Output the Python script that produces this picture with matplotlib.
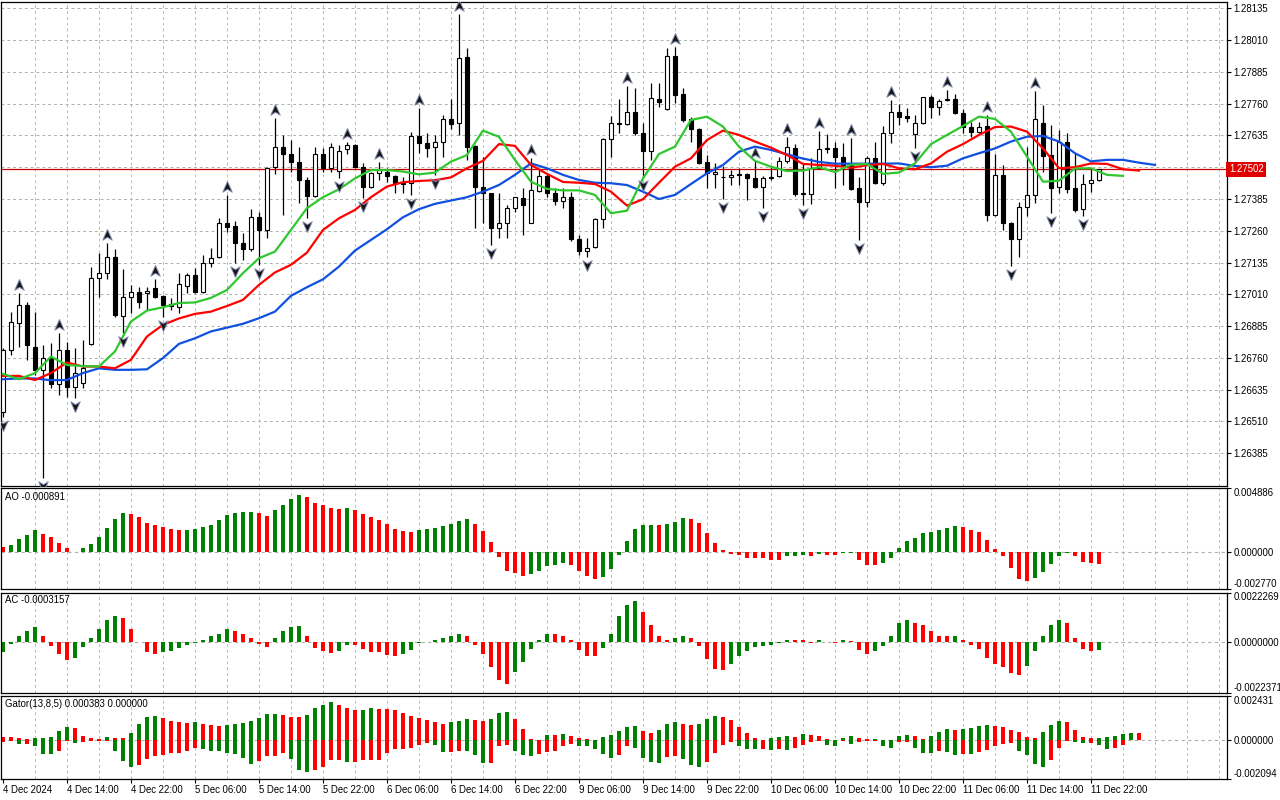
import matplotlib
matplotlib.use("Agg")
import matplotlib.pyplot as plt
from matplotlib.path import Path
from matplotlib.transforms import offset_copy, blended_transform_factory

plt.rcParams["font.family"] = ["Liberation Sans", "DejaVu Sans"]

# H1 candles, 4 Dec 06:00 .. 11 Dec 23:00
opens = [1.26549, 1.26791, 1.26899, 1.26968, 1.26804, 1.26713, 1.26759, 1.26657, 1.26791, 1.26647,
         1.26660, 1.26815, 1.27073, 1.27093, 1.27158, 1.26925, 1.26999, 1.27021, 1.27014, 1.27034,
         1.27004, 1.26972, 1.26962, 1.27044, 1.27085, 1.27021, 1.27135, 1.27156, 1.27289, 1.27279,
         1.27211, 1.27187, 1.27313, 1.27263, 1.27510, 1.27591, 1.27562, 1.27529, 1.27460, 1.27398,
         1.27562, 1.27506, 1.27497, 1.27580, 1.27596, 1.27510, 1.27434, 1.27486, 1.27493, 1.27476,
         1.27449, 1.27447, 1.27633, 1.27604, 1.27588, 1.27611, 1.27698, 1.27683, 1.27942, 1.27595,
         1.27431, 1.27407, 1.27269, 1.27292, 1.27348, 1.27388, 1.27292, 1.27418, 1.27476, 1.27410,
         1.27379, 1.27394, 1.27227, 1.27182, 1.27195, 1.27305, 1.27620, 1.27680, 1.27680, 1.27726,
         1.27643, 1.27575, 1.27777, 1.27738, 1.27948, 1.27798, 1.27698, 1.27660, 1.27529, 1.27484,
         1.27470, 1.27470, 1.27482, 1.27482, 1.27466, 1.27431, 1.27466, 1.27476, 1.27535, 1.27584,
         1.27405, 1.27405, 1.27506, 1.27583, 1.27584, 1.27549, 1.27519, 1.27427, 1.27375, 1.27545,
         1.27449, 1.27643, 1.27726, 1.27712, 1.27640, 1.27683, 1.27788, 1.27746, 1.27776, 1.27777,
         1.27725, 1.27670, 1.27650, 1.27672, 1.27322, 1.27480, 1.27292, 1.27227, 1.27355, 1.27401,
         1.27685, 1.27558, 1.27431, 1.27608, 1.27427, 1.27344, 1.27447, 1.27460]
highs = [1.26798, 1.26942, 1.27014, 1.26981, 1.26942, 1.26811, 1.26818, 1.26857, 1.26824, 1.26798,
         1.26831, 1.27119, 1.27171, 1.27211, 1.27187, 1.27109, 1.27047, 1.27040, 1.27040, 1.27069,
         1.27008, 1.26995, 1.27093, 1.27093, 1.27113, 1.27165, 1.27191, 1.27309, 1.27401, 1.27300,
         1.27250, 1.27344, 1.27335, 1.27512, 1.27702, 1.27637, 1.27617, 1.27591, 1.27473, 1.27591,
         1.27584, 1.27604, 1.27598, 1.27611, 1.27601, 1.27525, 1.27493, 1.27532, 1.27506, 1.27480,
         1.27473, 1.27650, 1.27742, 1.27643, 1.27637, 1.27716, 1.27777, 1.28113, 1.27978, 1.27598,
         1.27552, 1.27410, 1.27407, 1.27362, 1.27394, 1.27427, 1.27545, 1.27499, 1.27486, 1.27427,
         1.27427, 1.27414, 1.27244, 1.27230, 1.27309, 1.27624, 1.27712, 1.27777, 1.27830, 1.27820,
         1.27683, 1.27840, 1.27840, 1.27978, 1.27984, 1.27820, 1.27709, 1.27663, 1.27558, 1.27525,
         1.27515, 1.27499, 1.27506, 1.27486, 1.27536, 1.27476, 1.27510, 1.27552, 1.27628, 1.27601,
         1.27528, 1.27545, 1.27654, 1.27641, 1.27611, 1.27604, 1.27624, 1.27473, 1.27554, 1.27611,
         1.27672, 1.27775, 1.27759, 1.27742, 1.27716, 1.27788, 1.27794, 1.27777, 1.27814, 1.27798,
         1.27738, 1.27689, 1.27689, 1.27716, 1.27562, 1.27519, 1.27296, 1.27375, 1.27591, 1.27811,
         1.27755, 1.27676, 1.27657, 1.27646, 1.27565, 1.27484, 1.27506, 1.27502]
lows = [1.26529, 1.26772, 1.26804, 1.26752, 1.26693, 1.26287, 1.26641, 1.26614, 1.26608, 1.26601,
        1.26641, 1.26811, 1.27001, 1.27069, 1.26920, 1.26857, 1.26936, 1.26955, 1.26949, 1.26995,
        1.26922, 1.26949, 1.26938, 1.27014, 1.27014, 1.27017, 1.27119, 1.27152, 1.27257, 1.27132,
        1.27145, 1.27182, 1.27126, 1.27230, 1.27484, 1.27322, 1.27493, 1.27368, 1.27309, 1.27394,
        1.27493, 1.27493, 1.27466, 1.27562, 1.27506, 1.27388, 1.27427, 1.27460, 1.27453, 1.27410,
        1.27410, 1.27401, 1.27565, 1.27549, 1.27480, 1.27549, 1.27659, 1.27637, 1.27539, 1.27270,
        1.27292, 1.27204, 1.27230, 1.27230, 1.27335, 1.27244, 1.27289, 1.27414, 1.27394, 1.27362,
        1.27348, 1.27221, 1.27165, 1.27158, 1.27191, 1.27270, 1.27552, 1.27643, 1.27676, 1.27637,
        1.27473, 1.27539, 1.27748, 1.27735, 1.27761, 1.27689, 1.27611, 1.27523, 1.27427, 1.27427,
        1.27384, 1.27440, 1.27440, 1.27381, 1.27427, 1.27348, 1.27460, 1.27473, 1.27525, 1.27397,
        1.27362, 1.27366, 1.27502, 1.27565, 1.27427, 1.27440, 1.27421, 1.27224, 1.27355, 1.27444,
        1.27440, 1.27604, 1.27676, 1.27689, 1.27584, 1.27680, 1.27702, 1.27716, 1.27772, 1.27719,
        1.27643, 1.27628, 1.27643, 1.27300, 1.27318, 1.27263, 1.27122, 1.27156, 1.27318, 1.27371,
        1.27493, 1.27331, 1.27407, 1.27407, 1.27335, 1.27318, 1.27414, 1.27457]
closes = [1.26791, 1.26903, 1.26968, 1.26811, 1.26713, 1.26759, 1.26657, 1.26791, 1.26647, 1.26700,
          1.26719, 1.27073, 1.27093, 1.27158, 1.26929, 1.26999, 1.27021, 1.26981, 1.27025, 1.27001,
          1.26968, 1.26964, 1.27050, 1.27085, 1.27021, 1.27135, 1.27152, 1.27289, 1.27276, 1.27211,
          1.27187, 1.27313, 1.27263, 1.27506, 1.27591, 1.27562, 1.27529, 1.27460, 1.27398, 1.27561,
          1.27506, 1.27591, 1.27575, 1.27596, 1.27510, 1.27434, 1.27486, 1.27502, 1.27476, 1.27447,
          1.27444, 1.27633, 1.27604, 1.27584, 1.27611, 1.27698, 1.27679, 1.27938, 1.27591, 1.27431,
          1.27407, 1.27269, 1.27289, 1.27348, 1.27392, 1.27362, 1.27421, 1.27476, 1.27407, 1.27379,
          1.27392, 1.27227, 1.27182, 1.27191, 1.27305, 1.27620, 1.27685, 1.27683, 1.27729, 1.27643,
          1.27575, 1.27781, 1.27768, 1.27948, 1.27794, 1.27696, 1.27659, 1.27528, 1.27486, 1.27493,
          1.27473, 1.27480, 1.27481, 1.27466, 1.27431, 1.27466, 1.27473, 1.27535, 1.27591, 1.27405,
          1.27407, 1.27506, 1.27580, 1.27584, 1.27549, 1.27519, 1.27423, 1.27375, 1.27545, 1.27449,
          1.27643, 1.27729, 1.27709, 1.27702, 1.27683, 1.27788, 1.27746, 1.27772, 1.27777, 1.27722,
          1.27667, 1.27650, 1.27667, 1.27322, 1.27480, 1.27289, 1.27227, 1.27355, 1.27401, 1.27698,
          1.27554, 1.27427, 1.27611, 1.27424, 1.27342, 1.27444, 1.27460, 1.27502]

up_fractals = [2, 7, 13, 19, 28, 34, 43, 47, 52, 57, 66, 78, 84, 94, 98, 102, 106, 111, 118, 123, 129]
down_fractals = [0, 5, 9, 15, 20, 29, 32, 38, 42, 45, 51, 54, 61, 73, 80, 90, 95, 100, 107, 114,
                 126, 131, 135]

# alligator lines, one value every 2nd bar (they run past the last candle)
jaw = [1.26676, 1.26679, 1.26679, 1.26672, 1.26673, 1.26700, 1.26719, 1.26713, 1.26713, 1.26715,
       1.26759, 1.26815, 1.26837, 1.26864, 1.26879, 1.26894, 1.26916, 1.26942, 1.27004, 1.27038,
       1.27069, 1.27119, 1.27182, 1.27224, 1.27266, 1.27313, 1.27345, 1.27366, 1.27379, 1.27392,
       1.27414, 1.27440, 1.27480, 1.27525, 1.27506, 1.27480, 1.27460, 1.27449, 1.27447, 1.27440,
       1.27414, 1.27385, 1.27401, 1.27444, 1.27486, 1.27519, 1.27571, 1.27591, 1.27578, 1.27561,
       1.27544, 1.27531, 1.27524, 1.27524, 1.27524, 1.27524, 1.27525, 1.27515, 1.27510, 1.27516,
       1.27545, 1.27565, 1.27584, 1.27611, 1.27630, 1.27633, 1.27611, 1.27565, 1.27533, 1.27539,
       1.27539, 1.27528, 1.27519]
teeth = [1.26689, 1.26689, 1.26673, 1.26700, 1.26742, 1.26726, 1.26726, 1.26719, 1.26752, 1.26844,
         1.26890, 1.26915, 1.26933, 1.26942, 1.26964, 1.26988, 1.27047, 1.27096, 1.27126, 1.27174,
         1.27263, 1.27309, 1.27342, 1.27392, 1.27434, 1.27451, 1.27456, 1.27459, 1.27470, 1.27506,
         1.27535, 1.27601, 1.27594, 1.27519, 1.27484, 1.27452, 1.27449, 1.27444, 1.27414, 1.27359,
         1.27384, 1.27449, 1.27512, 1.27545, 1.27617, 1.27654, 1.27637, 1.27611, 1.27587, 1.27558,
         1.27523, 1.27519, 1.27516, 1.27508, 1.27518, 1.27523, 1.27506, 1.27502, 1.27525, 1.27571,
         1.27601, 1.27637, 1.27668, 1.27670, 1.27650, 1.27584, 1.27506, 1.27510, 1.27525, 1.27523,
         1.27502, 1.27497]
lips = [1.26697, 1.26676, 1.26700, 1.26765, 1.26732, 1.26728, 1.26726, 1.26785, 1.26903, 1.26946,
        1.26959, 1.26976, 1.26978, 1.26996, 1.27027, 1.27093, 1.27152, 1.27178, 1.27263, 1.27349,
        1.27392, 1.27423, 1.27466, 1.27499, 1.27499, 1.27493, 1.27482, 1.27489, 1.27532, 1.27558,
        1.27654, 1.27630, 1.27539, 1.27453, 1.27425, 1.27419, 1.27419, 1.27401, 1.27329, 1.27339,
        1.27466, 1.27562, 1.27591, 1.27696, 1.27709, 1.27670, 1.27591, 1.27535, 1.27512, 1.27495,
        1.27497, 1.27510, 1.27491, 1.27520, 1.27523, 1.27484, 1.27489, 1.27525, 1.27601, 1.27637,
        1.27672, 1.27709, 1.27700, 1.27650, 1.27552, 1.27453, 1.27457, 1.27505, 1.27506, 1.27480,
        1.27476]

ao = [0.00040, 0.00053, 0.00099, 0.00129, 0.00167, 0.00142, 0.00114, 0.00068, 0.00030, 0.00003,
      0.00031, 0.00061, 0.00114, 0.00182, 0.00250, 0.00296, 0.00293, 0.00265, 0.00220, 0.00205,
      0.00190, 0.00174, 0.00167, 0.00168, 0.00174, 0.00190, 0.00210, 0.00245, 0.00280, 0.00296,
      0.00303, 0.00305, 0.00296, 0.00273, 0.00318, 0.00356, 0.00402, 0.00432, 0.00417, 0.00371,
      0.00356, 0.00334, 0.00326, 0.00334, 0.00318, 0.00288, 0.00265, 0.00243, 0.00212, 0.00174,
      0.00159, 0.00152, 0.00169, 0.00177, 0.00182, 0.00197, 0.00212, 0.00235, 0.00250, 0.00212,
      0.00159, 0.00076, -0.00035, -0.00136, -0.00152, -0.00174, -0.00159, -0.00136, -0.00099, -0.00091,
      -0.00076, -0.00091, -0.00136, -0.00174, -0.00197, -0.00182, -0.00121, -0.00020, 0.00083, 0.00174,
      0.00205, 0.00206, 0.00204, 0.00212, 0.00227, 0.00258, 0.00250, 0.00220, 0.00144, 0.00068,
      0.00015, -0.00013, -0.00020, -0.00038, -0.00039, -0.00045, -0.00053, -0.00054, -0.00028, -0.00027,
      -0.00020, -0.00028, -0.00013, -0.00020, -0.00021, -0.00005, -0.00003, -0.00058, -0.00091, -0.00092,
      -0.00081, -0.00043, 0.00033, 0.00083, 0.00106, 0.00144, 0.00152, 0.00167, 0.00182, 0.00197,
      0.00190, 0.00167, 0.00152, 0.00091, 0.00023, -0.00028, -0.00114, -0.00197, -0.00212, -0.00190,
      -0.00144, -0.00083, -0.00028, -0.00005, -0.00028, -0.00071, -0.00081, -0.000891]
ac = [-0.00043, -0.00006, 0.00031, 0.00053, 0.00067, 0.00027, -0.00016, -0.00050, -0.00076, -0.00070,
      -0.00022, 0.00022, 0.00062, 0.00102, 0.00116, 0.00111, 0.00062, 0.00004, -0.00043, -0.00052,
      -0.00043, -0.00039, -0.00025, -0.00012, -0.00003, 0.00013, 0.00027, 0.00040, 0.00058, 0.00049,
      0.00036, 0.00018, -0.00007, -0.00021, 0.00022, 0.00049, 0.00071, 0.00072, 0.00031, -0.00025,
      -0.00039, -0.00047, -0.00039, -0.00010, -0.00012, -0.00030, -0.00043, -0.00044, -0.00056, -0.00061,
      -0.00052, -0.00034, -0.00004, 0.00004, 0.00009, 0.00022, 0.00027, 0.00036, 0.00031, -0.00012,
      -0.00052, -0.00111, -0.00168, -0.00186, -0.00132, -0.00088, -0.00030, 0.00013, 0.00040, 0.00036,
      0.00031, 0.00009, -0.00034, -0.00061, -0.00062, -0.00025, 0.00040, 0.00116, 0.00169, 0.00183,
      0.00134, 0.00076, 0.00027, 0.00009, 0.00018, 0.00031, 0.00018, -0.00016, -0.00074, -0.00119,
      -0.00123, -0.00096, -0.00061, -0.00039, -0.00021, -0.00016, -0.00012, -0.00004, 0.00013, 0.00012,
      0.00009, -0.00003, 0.00009, 0.00004, -0.00003, 0.00009, 0.00008, -0.00034, -0.00052, -0.00039,
      -0.00016, 0.00027, 0.00085, 0.00102, 0.00085, 0.00076, 0.00049, 0.00031, 0.00027, 0.00031,
      0.00013, -0.00012, -0.00030, -0.00070, -0.00096, -0.00110, -0.00137, -0.00145, -0.00105, -0.00039,
      0.00027, 0.00076, 0.00098, 0.00085, 0.00022, -0.00030, -0.00039, -0.0003157]
gator_up = [0.00016, 0.00016, 0.00011, 0.00005, 0.00011, 0.00012, 0.00016, 0.00049, 0.00071, 0.00065,
            0.00022, 0.00011, 0.00005, 0.00016, 0.00013, 0.00011, 0.00038, 0.00087, 0.00125, 0.00131,
            0.00120, 0.00104, 0.00098, 0.00093, 0.00098, 0.00087, 0.00082, 0.00078, 0.00085, 0.00089,
            0.00093, 0.00104, 0.00120, 0.00142, 0.00143, 0.00136, 0.00125, 0.00124, 0.00136, 0.00174,
            0.00191, 0.00207, 0.00191, 0.00174, 0.00164, 0.00165, 0.00174, 0.00169, 0.00168, 0.00164,
            0.00147, 0.00131, 0.00120, 0.00109, 0.00098, 0.00087, 0.00098, 0.00104, 0.00114, 0.00109,
            0.00104, 0.00114, 0.00147, 0.00153, 0.00114, 0.00060, 0.00005, 0.00004, 0.00028, 0.00027,
            0.00033, 0.00022, 0.00015, 0.00005, 0.00004, 0.00016, 0.00027, 0.00049, 0.00071, 0.00076,
            0.00049, 0.00040, 0.00055, 0.00087, 0.00098, 0.00087, 0.00082, 0.00087, 0.00114, 0.00131,
            0.00129, 0.00109, 0.00071, 0.00038, 0.00011, 0.00004, 0.00011, 0.00016, 0.00022, 0.00016,
            0.00033, 0.00027, 0.00022, 0.00005, 0.00002, 0.00011, 0.00022, 0.00011, 0.00005, 0.00006,
            0.00002, 0.00003, 0.00022, 0.00027, 0.00022, 0.00005, 0.00022, 0.00044, 0.00060, 0.00058,
            0.00060, 0.00069, 0.00076, 0.00082, 0.00080, 0.00071, 0.00055, 0.00044, 0.00016, 0.00011,
            0.00044, 0.00082, 0.00104, 0.00098, 0.00055, 0.00016, 0.00011, 0.00013, 0.00018, 0.00024,
            0.00035, 0.00040, 0.000383]
gator_down = [-0.00009, -0.00004, -0.00020, -0.00019, -0.00031, -0.00074, -0.00075, -0.00058, -0.00005, -0.00015,
              -0.00009, -0.00004, -0.00003, -0.00002, -0.00055, -0.00113, -0.00145, -0.00134, -0.00102, -0.00085,
              -0.00078, -0.00069, -0.00069, -0.00058, -0.00042, -0.00047, -0.00056, -0.00058, -0.00067, -0.00074,
              -0.00096, -0.00129, -0.00114, -0.00085, -0.00084, -0.00069, -0.00102, -0.00162, -0.00173, -0.00158,
              -0.00145, -0.00107, -0.00105, -0.00118, -0.00118, -0.00107, -0.00107, -0.00107, -0.00069, -0.00047,
              -0.00047, -0.00042, -0.00025, -0.00015, -0.00025, -0.00065, -0.00065, -0.00055, -0.00060, -0.00080,
              -0.00122, -0.00122, -0.00033, -0.00025, -0.00058, -0.00080, -0.00084, -0.00073, -0.00065, -0.00058,
              -0.00031, -0.00022, -0.00031, -0.00032, -0.00047, -0.00074, -0.00096, -0.00080, -0.00031, -0.00042,
              -0.00096, -0.00118, -0.00124, -0.00091, -0.00085, -0.00102, -0.00134, -0.00145, -0.00118, -0.00069,
              -0.00025, -0.00009, -0.00031, -0.00047, -0.00048, -0.00047, -0.00053, -0.00049, -0.00053, -0.00042,
              -0.00025, -0.00009, -0.00004, -0.00025, -0.00031, -0.00004, -0.00020, -0.00009, -0.00004, -0.00002,
              -0.00031, -0.00042, -0.00009, -0.00007, -0.00042, -0.00069, -0.00070, -0.00058, -0.00064, -0.00080,
              -0.00074, -0.00075, -0.00064, -0.00053, -0.00031, -0.00020, -0.00015, -0.00058, -0.00080, -0.00129,
              -0.00145, -0.00107, -0.00042, -0.00004, -0.00009, -0.00015, -0.00013, -0.00025, -0.00045, -0.00040,
              -0.00024, 0.0, 0.0]

time_labels = ["4 Dec 2024", "4 Dec 14:00", "4 Dec 22:00", "5 Dec 06:00", "5 Dec 14:00",
               "5 Dec 22:00", "6 Dec 06:00", "6 Dec 14:00", "6 Dec 22:00", "9 Dec 06:00",
               "9 Dec 14:00", "9 Dec 22:00", "10 Dec 06:00", "10 Dec 14:00", "10 Dec 22:00",
               "11 Dec 06:00", "11 Dec 14:00", "11 Dec 22:00"]
price_ticks = [1.26385, 1.26510, 1.26635, 1.26760, 1.26885, 1.27010, 1.27135, 1.27260,
               1.27385, 1.27510, 1.27635, 1.27760, 1.27885, 1.28010, 1.28135]
last_price = 1.27502

GREEN = "#008000"
RED = "#ff0000"
VGRID = "#c4b2c4"
HGRID = "#a9b4a9"
FS = 6.9

W, H = 1280.0, 800.0


def box(x0, y0, x1, y1):
    return [x0 / W, 1 - y1 / H, (x1 - x0) / W, (y1 - y0) / H]


def trend_colors(vals, first, use_abs=False):
    cols = [first]
    for a, b in zip(vals[:-1], vals[1:]):
        if use_abs:
            a, b = abs(a), abs(b)
        cols.append(GREEN if b > a else RED)
    return cols


fig = plt.figure(figsize=(12.8, 8.0), dpi=100)
ax = fig.add_axes(box(1.3, 2, 1227, 486))
ax_ao = fig.add_axes(box(1.3, 487.5, 1227, 589.3))
ax_ac = fig.add_axes(box(1.3, 592.5, 1227, 692.7))
ax_g = fig.add_axes(box(1.3, 695.5, 1227, 779))
axes = [ax, ax_ao, ax_ac, ax_g]

n = len(opens)
xs = list(range(n))
for a in axes:
    a.set_xlim(-0.2, 153)
    for s in a.spines.values():
        s.set_linewidth(0.9)
        s.set_color("black")
    for gx in range(4, 153, 4):
        a.axvline(gx, color=VGRID, lw=0.7, ls=(0, (3, 3)), zorder=0)
    a.yaxis.tick_right()
    a.tick_params(axis="y", direction="out", length=3, width=0.8, pad=1.5,
                  labelsize=FS, left=False, labelleft=False, right=True, labelright=True)
    a.tick_params(axis="x", bottom=False, labelbottom=False)

# ---- main price chart ----
ax.set_ylim(1.26256, 1.28160)
ax.set_yticks(price_ticks)
ax.set_yticklabels(["" if abs(p - 1.27510) < 1e-7 else f"{p:.5f}" for p in price_ticks])
for p in price_ticks:
    ax.axhline(p, color=HGRID, lw=0.7, ls=(0, (3, 3)), zorder=0)

ax.axhline(last_price, color="#c80000", lw=0.9, zorder=1)

body_lo = [min(o, c) for o, c in zip(opens, closes)]
body_h = [max(abs(c - o), 0.000015) for o, c in zip(opens, closes)]
body_fc = ["white" if c >= o else "black" for o, c in zip(opens, closes)]
ax.vlines(xs, lows, highs, color="black", lw=0.9, zorder=2)
ax.bar(xs, body_h, bottom=body_lo, width=0.56, color=body_fc, edgecolor="black",
       linewidth=0.8, zorder=3)

ax.plot(list(range(0, 145, 2)), jaw, color="#1050e0", lw=1.6, zorder=4)
ax.plot(list(range(0, 143, 2)), teeth, color="#ff0000", lw=1.6, zorder=5)
ax.plot(list(range(0, 141, 2)), lips, color="#2ec82e", lw=1.6, zorder=6)

up_marker = Path([(0, 1), (0.8, -0.8), (0, -0.3), (-0.8, -0.8), (0, 1)],
                 [Path.MOVETO, Path.LINETO, Path.LINETO, Path.LINETO, Path.CLOSEPOLY])
down_marker = Path([(0, -1), (0.8, 0.8), (0, 0.3), (-0.8, 0.8), (0, -1)],
                   [Path.MOVETO, Path.LINETO, Path.LINETO, Path.LINETO, Path.CLOSEPOLY])
tr_up = offset_copy(ax.transData, fig=fig, x=0, y=8, units="dots")
tr_dn = offset_copy(ax.transData, fig=fig, x=0, y=-8, units="dots")
ax.plot(up_fractals, [highs[i] for i in up_fractals], ls="none", marker=up_marker,
        ms=8.5, mfc="#151515", mec="#7f86a8", mew=0.7, transform=tr_up, zorder=7)
ax.plot(down_fractals, [lows[i] for i in down_fractals], ls="none", marker=down_marker,
        ms=8.5, mfc="#151515", mec="#7f86a8", mew=0.7, transform=tr_dn, zorder=7)

ax.text(1.0015, last_price, f"{last_price:.5f}", color="white", fontsize=FS,
        ha="left", va="center",
        transform=blended_transform_factory(ax.transAxes, ax.transData),
        bbox=dict(boxstyle="square,pad=0.25", fc="#e00000", ec="none"), clip_on=False)

# ---- sub windows ----
def sub_window(a, lo, hi, fmt, label, label_y):
    a.set_ylim(lo, hi)
    a.set_yticks([lo, 0.0, hi])
    labels = a.set_yticklabels([fmt.format(lo), fmt.format(0.0), fmt.format(hi)])
    labels[0].set_va("bottom")
    labels[2].set_va("top")
    a.axhline(0, color=HGRID, lw=0.8, ls=(0, (3, 3)), zorder=0)
    a.text(0.003, label_y, label, transform=a.transAxes, fontsize=FS, va="center", ha="left")


sub_window(ax_ao, -0.002770, 0.004886, "{:.6f}", "AO -0.000891", 0.905)
ax_ao.bar(xs, ao, width=0.55, color=trend_colors(ao, RED), zorder=2)

sub_window(ax_ac, -0.0022371, 0.0022269, "{:.7f}", "AC -0.0003157", 0.925)
ax_ac.bar(xs, ac, width=0.55, color=trend_colors(ac, GREEN), zorder=2)

sub_window(ax_g, -0.002094, 0.002431, "{:.6f}", "Gator(13,8,5) 0.000383 0.000000", 0.895)
gx = list(range(len(gator_up)))
ax_g.bar(gx, gator_up, width=0.55, color=trend_colors(gator_up, RED), zorder=2)
ax_g.bar(gx, gator_down, width=0.55, color=trend_colors(gator_down, RED, use_abs=True), zorder=2)

ax_g.set_xticks(list(range(0, 137, 8)))
ax_g.set_xticklabels(time_labels, ha="left", fontsize=FS)
ax_g.tick_params(axis="x", bottom=True, labelbottom=True, direction="out", length=3,
                 width=0.8, pad=1)

fig.savefig("out.png", dpi=100)
